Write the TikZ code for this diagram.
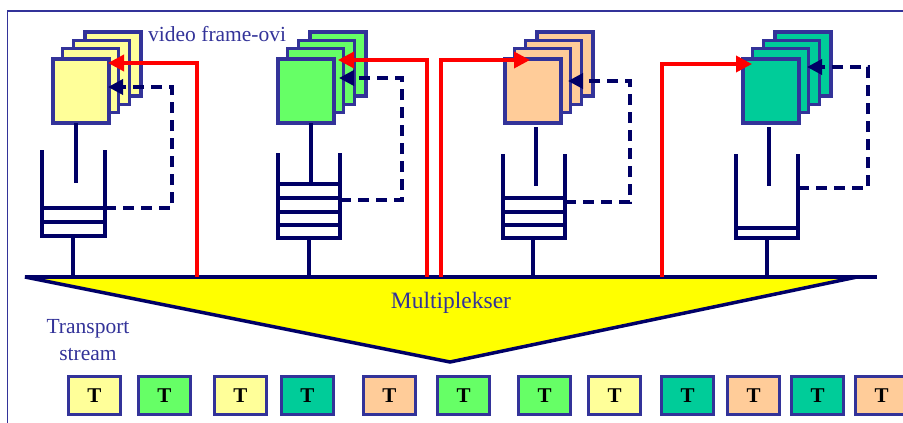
\documentclass[tikz,border=0pt]{standalone}
\usepackage{fontspec}
\setmainfont{Liberation Serif}
\usetikzlibrary{arrows.meta}
\definecolor{fyel}{HTML}{FFFF99}
\definecolor{fgrn}{HTML}{66FF66}
\definecolor{forg}{HTML}{FFCC99}
\definecolor{ftel}{HTML}{00CC99}
\definecolor{fbord}{HTML}{333399}
\definecolor{navy}{HTML}{000066}
\definecolor{myred}{HTML}{FF0000}
\definecolor{myyel}{HTML}{FFFF00}
\tikzset{
  framebox/.style={draw=fbord,line width=3.5pt},
  buf/.style={draw=navy,line width=3.5pt},
  redline/.style={draw=myred,line width=3.5pt,-{Triangle[length=16pt,width=16pt]}},
  dashline/.style={draw=navy,line width=3.5pt,dash pattern=on 11pt off 7pt,-{Triangle[length=15pt,width=15pt]}},
  tbox/.style={draw=fbord,line width=3.5pt,minimum width=52pt,minimum height=38pt,inner sep=0pt,font=\fontsize{21}{21}\selectfont\bfseries},
  lbl/.style={text=fbord,inner sep=0pt,font=\fontsize{21.5}{24}\selectfont}
}
\begin{document}
\begin{tikzpicture}[x=1pt,y=-1pt]
\useasboundingbox (0,0) rectangle (903,423);
% outer frame
\draw[fbord,line width=1.8pt] (7.5,430) -- (7.5,11) -- (910,11);
% triangle multiplexer
\draw[buf,fill=myyel,line join=miter] (25,277) -- (857,277) -- (450,362) -- cycle;
\node[lbl,font=\fontsize{23.5}{24}\selectfont,anchor=base] (mux) at (451,308) {Multiplekser};
% frame stacks
\foreach \L/\c/\n in {51/fyel/a,276/fgrn/b,503/forg/c,741/ftel/d}{
  \foreach \i in {3,2,1}{
    \draw[framebox,fill=\c] ({\L+11.3*\i},{57-8.3*\i}) rectangle ++(56,64);
  }
  \node[framebox,fill=\c,minimum width=56pt,minimum height=64pt,inner sep=0pt,anchor=north west] (fr\n) at (\L,57) {};
}
% buffers
\draw[buf] (42,150) -- (42,236) -- (105,236) -- (105,150);
\draw[buf] (42,208) -- (105,208) (42,222) -- (105,222);
\draw[buf] (76,123) -- (76,183);
\draw[buf] (73,236) -- (73,277);

\draw[buf] (278,153) -- (278,238) -- (340,238) -- (340,153);
\draw[buf] (278,184) -- (340,184) (278,198) -- (340,198) (278,212) -- (340,212) (278,225) -- (340,225);
\draw[buf] (311,123) -- (311,183);
\draw[buf] (309,238) -- (309,277);

\draw[buf] (503,154) -- (503,238) -- (565,238) -- (565,154);
\draw[buf] (503,198) -- (565,198) (503,212) -- (565,212) (503,225) -- (565,225);
\draw[buf] (536,127) -- (536,186);
\draw[buf] (533,238) -- (533,277);

\draw[buf] (736,154) -- (736,238) -- (798,238) -- (798,154);
\draw[buf] (736,228) -- (798,228);
\draw[buf] (769,127) -- (769,186);
\draw[buf] (767,238) -- (767,277);
% bus
\draw[buf] (25,277) -- (877,277);
% red lines
\draw[redline] (197,277) -- (197,63) -- (108,63);
\draw[redline] (427,277) -- (427,60) -- (338,60);
\draw[redline] (441,277) -- (441,60) -- (530,60);
\draw[redline] (662,277) -- (662,64) -- (752,64);
% dashed feedback
\draw[dashline] (105,208) -- (172,208) -- (172,87) -- (108,87);
\draw[dashline] (340,200) -- (402,200) -- (402,78) -- (339,78);
\draw[dashline] (565,202) -- (630,202) -- (630,81) -- (568,81);
\draw[dashline] (798,188) -- (868,188) -- (868,67) -- (807,67);
% labels
\node[lbl,anchor=base west] (vf) at (148,41) {video frame-ovi};
\node[lbl,anchor=base] (tr1) at (88,333) {Transport};
\node[lbl,anchor=base] (tr2) at (88,360) {stream};
% transport packets
\foreach \L/\c [count=\k] in {67/fyel,137/fgrn,213/fyel,280/ftel,362/forg,436/fgrn,517/fgrn,587/fyel,660/ftel,726/forg,790/ftel,854/forg}{
  \node[tbox,fill=\c] (t\k) at ({\L+27.5},395.5) {T};
}
\end{tikzpicture}
\end{document}
